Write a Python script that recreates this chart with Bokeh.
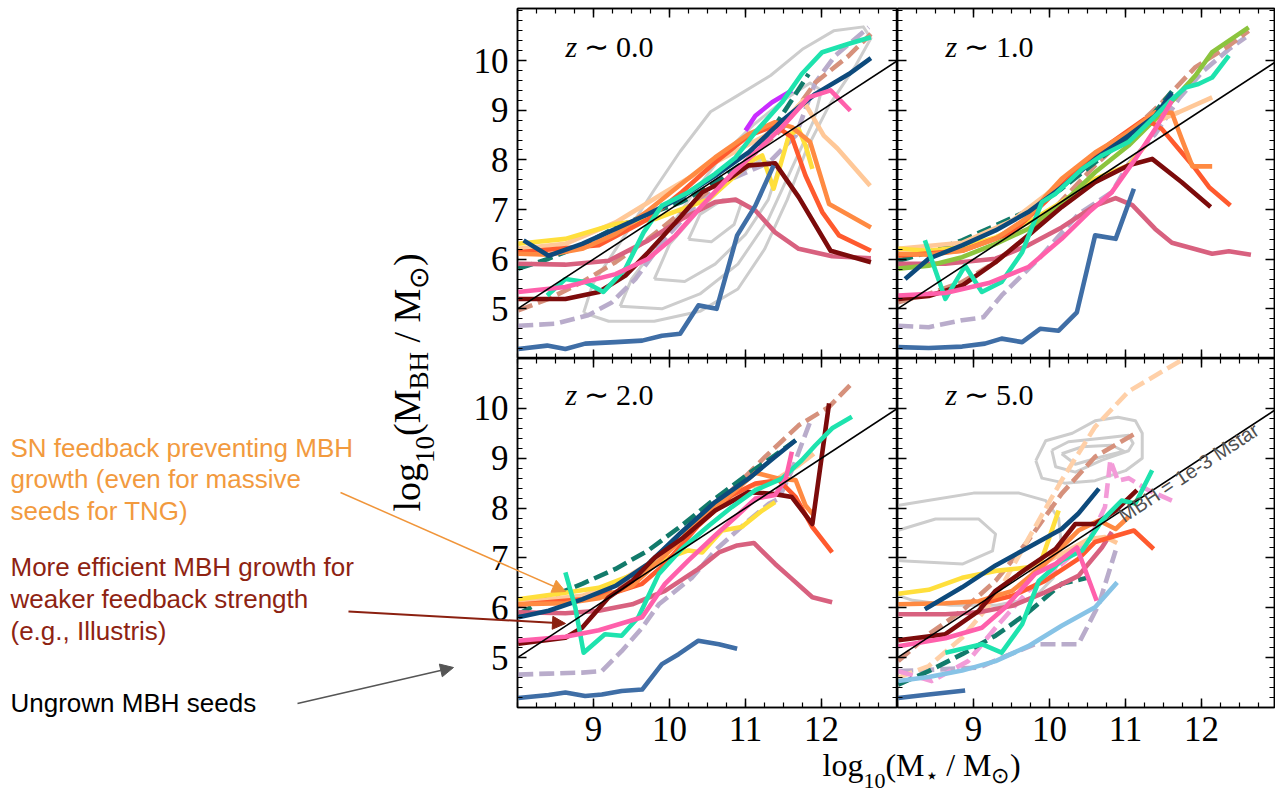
import math
from bokeh.plotting import figure
from bokeh.models import Range1d, LinearAxis, FixedTicker, Label, Arrow, NormalHead
from bokeh.layouts import gridplot, column
from bokeh.embed import file_html
from bokeh.resources import INLINE

# ------------------------------------------------------------------ data
PANELS = ["z0", "z1", "z2", "z5"]
PANEL_Z = {"z0": "0.0", "z1": "1.0", "z2": "2.0", "z5": "5.0"}
X_TICKS = [9, 10, 11, 12]
Y_TICKS = [5, 6, 7, 8, 9, 10]
REL_X = [8.0, 13.0]          # MBH = 1e-3 Mstar
REL_Y = [5.0, 10.0]

STEEL_X = {"z0": [8.01, 8.39, 8.63, 8.89, 9.29, 9.64, 9.90, 10.14, 10.38, 10.62, 10.89, 11.13, 11.37],
           "z1": [8.01, 8.41, 8.85, 9.15, 9.37, 9.64, 9.88, 10.12, 10.36, 10.60, 10.87, 11.11],
           "z2": [8.01, 8.41, 8.63, 8.89, 9.11, 9.37, 9.64, 9.90, 10.12, 10.38, 10.65, 10.89],
           "z5": [8.01, 8.41, 8.89]}
STEEL_Y = {"z0": [4.19, 4.26, 4.19, 4.30, 4.33, 4.36, 4.46, 4.50, 5.07, 5.00, 6.48, 7.08, 7.89],
           "z1": [4.23, 4.21, 4.24, 4.30, 4.40, 4.33, 4.60, 4.56, 4.93, 6.48, 6.41, 7.42],
           "z2": [4.19, 4.25, 4.30, 4.23, 4.26, 4.33, 4.36, 4.87, 5.07, 5.34, 5.27, 5.18],
           "z5": [4.19, 4.26, 4.34]}

MAROON_X = {"z0": [8.01, 8.63, 9.07, 9.42, 9.72, 10.08, 10.43, 10.78, 11.04, 11.39, 11.70, 12.12, 12.65],
            "z1": [8.01, 8.41, 8.85, 9.29, 9.72, 10.16, 10.60, 11.04, 11.35, 11.74, 12.12],
            "z2": [8.01, 8.63, 8.85, 9.20, 9.51, 9.81, 10.16, 10.60, 11.04, 11.39, 11.61, 11.88, 12.10],
            "z5": [8.01, 8.63, 9.07, 9.29, 9.72, 10.08, 10.34, 10.60, 10.87, 11.15]}
MAROON_Y = {"z0": [5.20, 5.20, 5.34, 5.67, 6.14, 6.74, 7.35, 7.62, 7.89, 7.93, 7.25, 6.17, 5.94],
            "z1": [5.20, 5.26, 5.47, 5.94, 6.48, 7.05, 7.55, 7.89, 8.02, 7.55, 7.05],
            "z2": [5.28, 5.40, 5.60, 6.21, 6.54, 7.01, 7.38, 7.95, 8.32, 8.28, 8.22, 7.68, 10.10],
            "z5": [5.35, 5.47, 5.94, 6.34, 6.81, 7.18, 7.68, 7.68, 7.95, 8.36]}

ORANGE_X = {"z0": [8.01, 8.41, 8.85, 9.29, 9.72, 10.16, 10.60, 11.04, 11.39, 11.61, 11.85, 12.10, 12.65],
            "z1": [8.01, 8.41, 8.85, 9.29, 9.72, 9.94, 10.16, 10.60, 11.04, 11.39, 11.61, 11.74, 11.88, 12.14],
            "z2": [8.01, 8.63, 9.07, 9.51, 9.94, 10.38, 10.82, 11.13, 11.44, 11.66, 11.79, 11.90],
            "z5": [8.01, 8.63, 9.07, 9.51, 9.94, 10.38, 10.65, 10.87, 11.04]}
ORANGE_Y = {"z0": [6.11, 6.09, 6.21, 6.51, 6.98, 7.52, 8.05, 8.52, 8.76, 8.66, 8.36, 7.11, 6.64],
            "z1": [6.11, 6.09, 6.17, 6.41, 6.85, 7.25, 7.62, 8.15, 8.56, 8.96, 8.95, 8.42, 7.87, 7.87],
            "z2": [6.07, 6.09, 6.19, 6.44, 7.05, 7.72, 8.29, 8.71, 8.59, 8.56, 8.05, 7.85],
            "z5": [6.07, 6.09, 6.13, 6.34, 6.88, 7.55, 7.75, 7.58, 7.82]}

RED_X = {"z0": [8.01, 9.07, 9.72, 10.16, 10.60, 11.04, 11.39, 11.61, 11.79, 12.01, 12.23, 12.65],
         "z1": [8.01, 8.85, 9.51, 9.94, 10.38, 10.82, 11.26, 11.48, 11.70, 11.92, 12.10, 12.38],
         "z2": [8.01, 8.85, 9.29, 9.64, 9.94, 10.38, 10.82, 11.13, 11.44, 11.66, 11.88, 12.14],
         "z5": [9.07, 9.51, 9.94, 10.38, 10.60, 10.82, 11.11, 11.37]}
RED_Y = {"z0": [6.14, 6.28, 6.81, 7.35, 7.95, 8.49, 8.69, 8.46, 7.68, 6.95, 6.48, 6.17],
         "z1": [6.07, 6.17, 6.54, 7.15, 7.82, 8.36, 8.83, 8.62, 8.22, 7.82, 7.45, 7.08],
         "z2": [6.06, 6.17, 6.31, 6.48, 6.88, 7.65, 8.26, 8.49, 8.56, 8.22, 7.62, 7.11],
         "z5": [6.07, 6.24, 6.54, 6.98, 7.32, 7.42, 7.55, 7.18]}

PEACH_X = {"z0": [8.01, 8.63, 9.29, 9.94, 10.60, 11.26, 11.55, 11.76, 12.03, 12.21, 12.64],
           "z1": [8.01, 8.85, 9.51, 9.94, 10.38, 10.82, 11.26, 11.70, 12.14],
           "z2": [8.01, 8.85, 9.29, 9.72, 10.16, 10.60, 11.04, 11.39, 11.70, 11.90],
           "z5": [9.72, 10.16, 10.52, 10.73, 10.89]}
PEACH_Y = {"z0": [6.21, 6.31, 6.74, 7.35, 7.95, 8.49, 8.85, 9.20, 8.49, 8.23, 7.48],
           "z1": [6.21, 6.33, 6.78, 7.28, 7.85, 8.32, 8.69, 8.96, 9.26],
           "z2": [6.11, 6.24, 6.48, 6.88, 7.38, 7.95, 8.42, 8.56, 8.86, 9.09],
           "z5": [6.74, 7.08, 7.38, 7.42, 7.30]}

NAVY_X = {"z0": [8.08, 8.41, 8.85, 9.29, 9.72, 10.16, 10.60, 11.04, 11.48, 11.92, 12.36, 12.65],
          "z1": [8.10, 8.41, 8.85, 9.29, 9.72, 10.16, 10.60, 11.04, 11.39, 11.61],
          "z2": [8.01, 8.41, 8.85, 9.29, 9.72, 10.16, 10.60, 11.04, 11.39, 11.66],
          "z5": [8.36, 8.85, 9.29, 9.72, 10.16, 10.38, 10.65]}
NAVY_Y = {"z0": [6.38, 6.07, 6.31, 6.61, 6.91, 7.25, 7.68, 8.15, 8.79, 9.33, 9.73, 10.05],
          "z1": [5.60, 6.01, 6.28, 6.58, 6.95, 7.45, 8.02, 8.49, 8.89, 9.35],
          "z2": [5.81, 5.94, 6.17, 6.44, 6.88, 7.52, 8.12, 8.59, 9.03, 9.36],
          "z5": [5.97, 6.41, 6.85, 7.21, 7.58, 7.89, 8.39]}

TEAL_X = {"z0": [8.01, 8.41, 8.85, 9.29, 9.72, 10.16, 10.60, 11.04, 11.39, 11.83],
          "z1": [8.01, 8.41, 8.85, 9.29, 9.72, 10.16, 10.60, 11.04, 11.35, 11.61],
          "z2": [8.01, 8.41, 8.85, 9.29, 9.72, 10.16, 10.60, 11.04, 11.39, 11.66],
          "z5": [8.01, 8.41, 8.85, 9.29, 9.72, 10.16, 10.52]}
TEAL_Y = {"z0": [5.81, 6.01, 6.28, 6.64, 6.91, 7.15, 7.55, 8.02, 8.69, 9.73],
          "z1": [5.97, 6.14, 6.38, 6.68, 6.98, 7.42, 7.95, 8.46, 8.89, 9.38],
          "z2": [5.87, 6.21, 6.48, 6.78, 7.15, 7.65, 8.19, 8.69, 9.06, 9.36],
          "z5": [4.46, 4.73, 5.07, 5.44, 5.91, 6.48, 6.61]}

SALMON_X = {"z0": [8.01, 8.41, 8.85, 9.29, 9.72, 10.16, 10.60, 11.04, 11.48, 11.92, 12.36, 12.65],
            "z1": [8.01, 8.41, 8.85, 9.29, 9.72, 10.16, 10.60, 11.04, 11.48, 11.92, 12.36, 12.62],
            "z2": [9.07, 9.51, 9.94, 10.38, 10.82, 11.26, 11.70, 12.10, 12.38],
            "z5": [8.01, 8.41, 8.85, 9.29, 9.72, 10.16, 10.60, 11.13]}
SALMON_Y = {"z0": [4.97, 5.20, 5.54, 5.94, 6.41, 6.95, 7.48, 8.02, 8.62, 9.56, 10.10, 10.54],
            "z1": [5.13, 5.30, 5.54, 5.94, 6.48, 7.18, 7.89, 8.52, 9.16, 9.87, 10.30, 10.60],
            "z2": [6.21, 6.61, 7.18, 7.82, 8.36, 9.03, 9.66, 10.03, 10.47],
            "z5": [4.93, 5.47, 5.94, 6.54, 7.35, 8.29, 9.03, 9.50]}

LAV_X = {"z0": [8.01, 8.50, 8.93, 9.24, 9.55, 9.94, 10.38, 10.82, 11.31, 11.66, 11.92, 12.18, 12.62],
         "z1": [8.01, 8.41, 8.85, 9.13, 9.37, 9.86, 10.38, 10.82, 11.04, 11.39, 11.70, 12.01, 12.36, 12.58],
         "z2": [8.01, 8.41, 8.85, 9.11, 9.37, 9.64, 9.86, 10.30, 10.60, 11.04, 11.31, 11.44, 11.61, 11.85],
         "z5": [8.01, 8.63, 9.07, 9.42, 9.81, 10.38, 10.65, 10.87]}
LAV_Y = {"z0": [4.66, 4.70, 4.87, 5.13, 5.60, 6.41, 7.15, 7.62, 7.95, 8.49, 9.56, 10.10, 10.67],
         "z1": [4.66, 4.63, 4.77, 4.83, 5.27, 6.01, 6.91, 7.35, 7.92, 8.52, 9.23, 9.77, 10.23, 10.47],
         "z2": [4.66, 4.68, 4.70, 4.73, 5.13, 5.60, 6.07, 6.61, 7.15, 7.75, 8.09, 8.19, 8.76, 9.73],
         "z5": [4.73, 4.77, 4.80, 5.03, 5.27, 5.27, 6.07, 7.15]}

TURQ_X = {"z0": [8.39, 8.63, 8.89, 9.13, 9.42, 9.66, 9.90, 10.25, 10.60, 10.87, 11.13, 11.48, 11.74, 12.01, 12.36, 12.65],
          "z1": [8.36, 8.63, 8.89, 9.11, 9.37, 9.64, 9.90, 10.08, 10.43, 10.69, 11.04, 11.31, 11.57, 11.79, 11.96, 12.14, 12.36],
          "z2": [8.63, 8.76, 8.87, 9.15, 9.37, 9.59, 9.86, 10.16, 10.52, 10.82, 11.13, 11.48, 11.74, 11.92, 12.14, 12.40],
          "z5": [8.63, 9.11, 9.37, 9.64, 9.86, 10.16, 10.43, 10.69, 10.95, 11.13, 11.35]}
TURQ_Y = {"z0": [5.27, 5.60, 5.54, 5.34, 5.81, 6.54, 7.08, 7.35, 7.72, 8.05, 8.56, 9.16, 9.73, 10.17, 10.34, 10.47],
          "z1": [6.38, 5.20, 5.87, 5.34, 5.54, 6.14, 7.15, 7.32, 7.82, 8.09, 8.36, 8.76, 9.16, 9.46, 9.53, 9.66, 10.10],
          "z2": [6.71, 6.01, 5.10, 5.47, 5.44, 5.81, 6.68, 7.18, 7.65, 8.02, 8.36, 8.59, 8.96, 9.26, 9.60, 9.83],
          "z5": [5.10, 5.27, 5.10, 5.67, 6.54, 6.95, 7.15, 7.75, 8.15, 8.09, 8.76]}

HOTPINK_X = {"z0": [8.01, 8.63, 9.29, 9.72, 10.08, 10.43, 10.82, 11.13, 11.48, 11.83, 12.12, 12.38],
             "z1": [8.01, 8.63, 9.20, 9.72, 10.16, 10.52, 10.82, 11.13, 11.39, 11.61],
             "z2": [8.01, 8.63, 9.07, 9.64, 9.94, 10.25, 10.60, 10.87, 11.13, 11.39, 11.53, 11.61],
             "z5": [8.01, 8.63, 9.11, 9.42, 9.81, 10.08, 10.36, 10.62]}
HOTPINK_Y = {"z0": [5.34, 5.44, 5.70, 6.01, 6.48, 7.08, 7.72, 8.15, 8.66, 9.26, 9.40, 8.99],
             "z1": [5.27, 5.32, 5.52, 5.84, 6.41, 6.95, 7.35, 8.02, 8.62, 9.19],
             "z2": [5.34, 5.42, 5.55, 5.81, 6.48, 6.95, 7.45, 7.82, 8.19, 8.26, 8.59, 9.13],
             "z5": [5.23, 5.39, 5.60, 6.01, 6.68, 6.88, 7.21, 6.14]}

ROSE_X = {"z0": [8.01, 8.63, 9.20, 9.72, 10.16, 10.60, 10.87, 11.13, 11.39, 11.70, 12.14, 12.65],
          "z1": [8.01, 8.63, 9.29, 9.72, 10.16, 10.60, 10.87, 11.09, 11.39, 11.61, 12.14, 12.36, 12.65],
          "z2": [8.01, 8.63, 9.07, 9.51, 9.94, 10.38, 10.65, 10.89, 11.11, 11.39, 11.61, 11.88, 12.14],
          "z5": [8.01, 8.63, 9.07, 9.51, 9.94, 10.38, 10.69, 10.82]}
ROSE_Y = {"z0": [5.91, 5.89, 5.97, 6.38, 6.81, 7.15, 7.20, 6.98, 6.54, 6.21, 6.06, 6.02],
          "z1": [5.91, 5.91, 6.01, 6.28, 6.64, 7.08, 7.23, 7.09, 6.61, 6.33, 6.11, 6.16, 6.09],
          "z2": [5.91, 5.89, 5.94, 6.07, 6.34, 6.78, 7.11, 7.25, 7.30, 6.88, 6.58, 6.21, 6.11],
          "z5": [5.87, 5.87, 5.91, 6.04, 6.31, 6.64, 7.21, 7.52]}

YELLOW_X = {"z0": [8.01, 8.63, 9.29, 9.81, 10.16, 10.52, 10.82, 11.09, 11.22, 11.37, 11.57, 11.70, 11.79, 11.88],
            "z1": [8.01, 8.41, 8.85, 9.29, 9.72, 10.16, 10.60, 11.04, 11.26],
            "z2": [8.01, 8.63, 9.07, 9.51, 9.94, 10.25, 10.43, 10.69, 10.95, 11.22, 11.39],
            "z5": [8.01, 8.41, 8.85, 9.29, 9.72, 9.90, 10.03, 10.12]}
YELLOW_Y = {"z0": [6.31, 6.41, 6.71, 6.81, 7.01, 7.21, 7.62, 7.99, 8.09, 7.42, 8.49, 8.62, 8.29, 7.82],
            "z1": [6.21, 6.17, 6.24, 6.44, 6.74, 7.15, 7.62, 7.89, 8.29],
            "z2": [6.17, 6.30, 6.40, 6.66, 6.98, 7.15, 7.11, 7.55, 7.62, 7.95, 8.12],
            "z5": [6.28, 6.36, 6.60, 6.74, 6.81, 6.98, 7.55, 7.95]}

MAGENTA_X = {"z0": [11.00, 11.13, 11.35, 11.61]}
MAGENTA_Y = {"z0": [8.59, 8.89, 9.16, 9.40]}
LIME_X = {"z1": [8.01, 8.41, 8.85, 9.29, 9.72, 10.16, 10.60, 11.04, 11.48, 11.92, 12.14, 12.62]}
LIME_Y = {"z1": [5.81, 5.87, 6.04, 6.31, 6.61, 7.11, 7.75, 8.29, 8.96, 9.70, 10.17, 10.67]}
LIGHTBLUE_X = {"z5": [8.01, 8.41, 8.85, 9.29, 9.72, 10.16, 10.60, 10.89]}
LIGHTBLUE_Y = {"z5": [4.53, 4.61, 4.74, 4.93, 5.23, 5.64, 6.01, 6.51]}
PINKDASH_X = {"z5": [8.01, 8.45, 8.93, 9.29, 9.72, 10.16, 10.52, 10.73, 10.80, 10.90, 11.04, 11.31, 11.61]}
PINKDASH_Y = {"z5": [4.73, 4.53, 4.93, 5.60, 6.34, 6.88, 7.35, 8.02, 8.96, 8.55, 8.60, 8.35, 8.15]}
PEACHDASH_X = {"z5": [8.01, 8.41, 8.85, 9.29, 9.72, 10.16, 10.60, 11.04, 11.74]}
PEACHDASH_Y = {"z5": [4.60, 4.83, 5.40, 6.21, 7.38, 8.56, 9.63, 10.34, 10.97]}

# grey density contours (z~0 and z~5)
CONTOUR_X = {
    "z0": [[8.87, 8.99, 9.40, 9.80, 10.14, 10.54, 10.90, 11.33, 11.76, 12.16, 12.55, 12.65, 12.45, 12.10, 11.80, 11.55, 11.25, 10.90, 10.40, 9.80, 9.20, 8.87],
           [9.35, 9.50, 9.90, 10.30, 10.70, 11.10, 11.50, 11.85, 12.00, 11.90, 11.60, 11.30, 10.90, 10.40, 9.90, 9.35],
           [9.80, 10.00, 10.40, 10.80, 11.20, 11.45, 11.30, 11.00, 10.60, 10.20, 9.80],
           [10.25, 10.40, 10.70, 10.95, 10.85, 10.55, 10.25]],
    "z5": [[9.82, 9.95, 10.30, 10.60, 10.90, 11.13, 11.22, 11.22, 11.00, 10.60, 10.20, 9.90, 9.82],
           [10.03, 10.25, 10.69, 11.04, 11.10, 11.04, 10.69, 10.34, 10.08, 10.03],
           [10.16, 10.43, 10.82, 10.98, 10.69, 10.34, 10.16],
           [8.00, 8.40, 9.00, 9.60, 9.95, 10.12, 10.16, 10.05, 9.80, 9.30, 8.70, 8.20, 8.00],
           [8.00, 8.50, 9.07, 9.29, 9.25, 8.86, 8.10, 8.00]],
}
CONTOUR_Y = {
    "z0": [[4.92, 5.50, 6.45, 7.40, 8.17, 8.97, 9.30, 9.70, 10.24, 10.60, 10.68, 10.45, 9.90, 9.10, 8.20, 7.20, 6.20, 5.40, 4.95, 4.75, 4.75, 4.92],
           [5.05, 5.60, 6.40, 7.30, 8.10, 8.70, 9.20, 9.55, 9.40, 8.80, 7.80, 6.80, 5.90, 5.30, 5.00, 5.05],
           [5.60, 6.30, 7.00, 7.60, 8.00, 7.90, 7.20, 6.50, 5.90, 5.55, 5.60],
           [6.40, 6.90, 7.20, 7.15, 6.70, 6.35, 6.40]],
    "z5": [[8.95, 9.35, 9.50, 9.75, 9.82, 9.75, 9.50, 9.00, 8.75, 8.55, 8.50, 8.60, 8.95],
           [9.16, 9.33, 9.40, 9.46, 9.30, 9.15, 8.96, 8.72, 8.83, 9.16],
           [9.09, 9.23, 9.26, 9.14, 9.03, 8.88, 9.09],
           [8.05, 8.15, 8.30, 8.30, 8.15, 7.80, 7.20, 6.60, 6.20, 6.05, 6.05, 6.15, 6.25],
           [7.55, 7.78, 7.78, 7.48, 7.14, 6.88, 6.94, 6.95]],
}

DASHED = "15 6"
SERIES = [
    (LAV_X, LAV_Y, "#b9accb", DASHED),
    (SALMON_X, SALMON_Y, "#d6917c", DASHED),
    (PEACHDASH_X, PEACHDASH_Y, "#ffd0a8", DASHED),
    (PINKDASH_X, PINKDASH_Y, "#f39bd8", DASHED),
    (TEAL_X, TEAL_Y, "#127b6b", DASHED),
    (ROSE_X, ROSE_Y, "#d8617f", "solid"),
    (PEACH_X, PEACH_Y, "#ffc898", "solid"),
    (YELLOW_X, YELLOW_Y, "#ffdf3c", "solid"),
    (LIME_X, LIME_Y, "#8cc43e", "solid"),
    (RED_X, RED_Y, "#ff5a2e", "solid"),
    (ORANGE_X, ORANGE_Y, "#ff8a42", "solid"),
    (NAVY_X, NAVY_Y, "#0d4a7c", "solid"),
    (MAROON_X, MAROON_Y, "#7c0b0b", "solid"),
    (LIGHTBLUE_X, LIGHTBLUE_Y, "#87c3e6", "solid"),
    (MAGENTA_X, MAGENTA_Y, "#c92cff", "solid"),
    (TURQ_X, TURQ_Y, "#1ee3ae", "solid"),
    (HOTPINK_X, HOTPINK_Y, "#ff60ab", "solid"),
    (STEEL_X, STEEL_Y, "#3f6ea6", "solid"),
]

# annotation texts
ORANGE_TXT = ["SN feedback preventing MBH", "growth (even for massive", "seeds for TNG)"]
RED_TXT = ["More efficient MBH growth for", "weaker feedback strength", "(e.g., Illustris)"]
SEED_TXT = "Ungrown MBH seeds"
REL_TXT = "MBH = 1e-3 Mstar"

# ------------------------------------------------------------------ layout
GEOM = {
    "z0": dict(left=517, top=8, w=380, h=350, x=(8, 13), y=(4, 11.05), b=(517, 0, 8, 0)),
    "z1": dict(left=897, top=8, w=377, h=350, x=(8, 12.96), y=(4, 11.05), b=(0, 1, 8, 0)),
    "z2": dict(left=517, top=358, w=380, h=349, x=(8, 13), y=(4, 11), b=(517, 0, 0, 86)),
    "z5": dict(left=897, top=358, w=377, h=349, x=(8, 12.96), y=(4, 11), b=(0, 1, 0, 86)),
}
SERIF = "Liberation Serif"
SANS = "Liberation Sans"
NB = "\u00a0"


def px_to_data(key, px, py):
    g = GEOM[key]
    x0, x1 = g["x"]
    y0, y1 = g["y"]
    return (x0 + (px - g["left"]) / g["w"] * (x1 - x0),
            y1 - (py - g["top"]) / g["h"] * (y1 - y0))


def style_axis(ax, show):
    ax.axis_line_color = "black"
    ax.axis_line_width = 1.5
    ax.major_tick_in = 9
    ax.major_tick_out = 0
    ax.minor_tick_in = 5
    ax.minor_tick_out = 0
    ax.major_tick_line_color = "black"
    ax.minor_tick_line_color = "black"
    ax.major_tick_line_width = 1.5
    ax.minor_tick_line_width = 1.2
    if show:
        ax.major_label_text_font = SERIF
        ax.major_label_text_font_size = "35px"
        ax.major_label_text_color = "black"
        ax.major_label_standoff = 9
    else:
        ax.major_label_text_font_size = "0px"
        ax.major_label_text_color = None
        ax.major_label_standoff = 0


figs = {}
for key in PANELS:
    g = GEOM[key]
    bl, br, bt, bb = g["b"]
    p = figure(frame_width=g["w"], frame_height=g["h"],
               x_range=Range1d(*g["x"]), y_range=Range1d(*g["y"]),
               x_axis_location=None, y_axis_location=None,
               output_backend="svg", toolbar_location=None,
               min_border_left=bl, min_border_right=br,
               min_border_top=bt, min_border_bottom=bb)
    p.grid.visible = False
    p.outline_line_color = "black"
    p.outline_line_width = 1.5
    p.background_fill_color = "white"
    p.border_fill_color = "white"

    xt = FixedTicker(ticks=X_TICKS, minor_ticks=[8 + 0.25 * i for i in range(21)])
    yt = FixedTicker(ticks=Y_TICKS, minor_ticks=[round(4 + 0.2 * i, 2) for i in range(36)])
    for loc in ("left", "right", "above", "below"):
        ax = LinearAxis(ticker=yt if loc in ("left", "right") else xt)
        show = (loc == "left" and key in ("z0", "z2")) or (loc == "below" and key in ("z2", "z5"))
        style_axis(ax, show)
        p.add_layout(ax, loc)

    for cx, cy in zip(CONTOUR_X.get(key, []), CONTOUR_Y.get(key, [])):
        p.line(cx, cy, line_color="#cdcdcd", line_width=3, line_join="round")

    for sx, sy, col, dash in SERIES:
        if key in sx:
            p.line(sx[key], sy[key], line_color=col, line_width=4.6,
                   line_dash=dash, line_join="round", line_cap="butt")

    p.line(REL_X, REL_Y, line_color="black", line_width=1.6)

    zpx = 565 if key in ("z0", "z2") else 945
    zpy = 62 if key in ("z0", "z1") else 410
    zx, zy = px_to_data(key, zpx, zpy)
    p.add_layout(Label(x=zx, y=zy, text="z", text_font=SERIF, text_font_style="italic",
                       text_font_size="30px", text_color="black"))
    p.add_layout(Label(x=zx, y=zy, x_offset=18, text="\u223c" + NB + PANEL_Z[key],
                       text_font=SERIF, text_font_size="30px", text_color="black"))
    figs[key] = p

# relation label (inside the z~5 frame)
ang = math.atan((GEOM["z5"]["h"] / 7.0) / (GEOM["z5"]["w"] / 4.96))
rx, ry = px_to_data("z5", 1126, 526)
figs["z5"].add_layout(Label(x=rx, y=ry, text=REL_TXT, angle=ang, text_font=SANS,
                            text_font_size="20px", text_color="#505050"))

grid = gridplot([[figs["z0"], figs["z1"]], [figs["z2"], figs["z5"]]], toolbar_location=None)

# ---------------- transparent overlay in page pixels for texts outside the panels
ov = figure(width=1275, height=793, x_range=Range1d(0, 1275), y_range=Range1d(793, 0),
            x_axis_location=None, y_axis_location=None, toolbar_location=None,
            output_backend="svg", min_border=0,
            styles={"position": "absolute", "left": "0px", "top": "0px",
                    "z-index": "10", "pointer-events": "none"})
ov.grid.visible = False
ov.outline_line_color = None
ov.background_fill_alpha = 0
ov.border_fill_alpha = 0

# x-axis label: log10(M* / Msun)
XL_PIECES = [("log", 32, 0, 1.278), ("10", 22, 5, 1.0), ("(M", 32, 0, 1.222),
             ("\u22c6", 22, 5, 0.62), (NB + "/" + NB + "M", 32, 0, 1.667), ("\u2299", 22, 5, 0.84),
             (")", 32, 0, 0.333)]
cur = 822.0
for txt, fs, dy, wem in XL_PIECES:
    ov.add_layout(Label(x=cur, y=782 + dy, text=txt, text_font=SERIF,
                        text_font_size=f"{fs}px", text_color="black"))
    cur += wem * fs

# y-axis label (rotated): log10(M_BH / Msun)
YL_PIECES = [("log", 38, 0, 1.278), ("10", 27, 6, 1.0), ("(M", 38, 0, 1.222),
             ("BH", 27, 6, 1.389), (NB + "/" + NB + "M", 38, 0, 1.667), ("\u2299", 27, 6, 0.84),
             (")", 38, 0, 0.333)]
cur = 511.0
for txt, fs, dx, wem in YL_PIECES:
    ov.add_layout(Label(x=427 + dx, y=cur, text=txt, angle=math.pi / 2, text_font=SERIF,
                        text_font_size=f"{fs}px", text_color="black"))
    cur -= wem * fs

for i, t in enumerate(ORANGE_TXT):
    ov.add_layout(Label(x=10, y=447 + 31.5 * i, text=t, text_font=SANS, text_font_size="26px",
                        text_color="#f29a3e", text_baseline="middle"))
for i, t in enumerate(RED_TXT):
    ov.add_layout(Label(x=10, y=566 + 32 * i, text=t, text_font=SANS, text_font_size="26px",
                        text_color="#8e2312", text_baseline="middle"))
ov.add_layout(Label(x=10, y=702, text=SEED_TXT, text_font=SANS, text_font_size="26px",
                    text_color="black", text_baseline="middle"))

ARROWS = [((340, 492), (565, 591), "#f0953a", 1.5),
          ((348, 611), (565, 623), "#8b2010", 2.0),
          ((297, 703), (453, 667), "#555555", 1.5)]
for (x0, y0), (x1, y1), col, lw in ARROWS:
    ov.add_layout(Arrow(end=NormalHead(size=13, fill_color=col, line_color=col, line_width=1),
                        x_start=x0, y_start=y0, x_end=x1, y_end=y1,
                        line_color=col, line_width=lw))

page = column(grid, ov)

with open("out.html", "w") as f:
    f.write(file_html(page, INLINE, title="MBH-Mstar relation"))
